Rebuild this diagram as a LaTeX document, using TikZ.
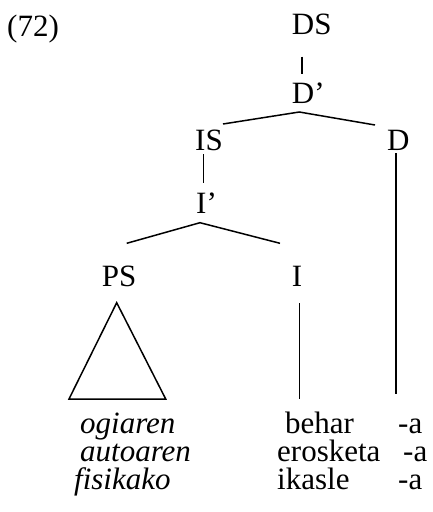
\documentclass[tikz,border=0pt]{standalone}
\usepackage{fontspec}
\setmainfont{Liberation Serif}
\usepackage{tikz}

\begin{document}
\begin{tikzpicture}[x=1pt,y=-1pt,
    font=\fontsize{31}{37}\selectfont,
    lbl/.style={anchor=base west,inner sep=0pt},
    branch/.style={line width=1.5pt}]
        \useasboundingbox (0,0) rectangle (433,512);

        % labels of the tree
        \node[lbl] (ex) at (7,36) {(72)};
        \node[lbl] (ds) at (291.7,34.3) {DS};
        \node[lbl] (dbar) at (291.7,103.3) {D’};
        \node[lbl] (is) at (195,150) {IS};
        \node[lbl] (d) at (387,150) {D};
        \node[lbl] (ibar) at (196,213.3) {I’};
        \node[lbl] (ps) at (101.7,286.7) {PS};
        \node[lbl] (i) at (291.7,286.7) {I};

        % the words
        \node[lbl] (w1) at (80,433) {\itshape ogiaren};
        \node[lbl] (w2) at (80,461.7) {\itshape autoaren};
        \node[lbl] (w3) at (74,489.3) {\itshape fisikako};
        \node[lbl] (n1) at (285,433) {behar};
        \node[lbl] (n2) at (277,461.7) {erosketa};
        \node[lbl] (n3) at (277,489.3) {ikasle};
        \node[lbl] (a1) at (398,433) {-a};
        \node[lbl] (a2) at (403,461.7) {-a};
        \node[lbl] (a3) at (398,489.3) {-a};

        % ends of the branches
        \coordinate (ds-foot) at (302,56.7);
        \coordinate (dbar-head) at (302,74);
        \coordinate (dbar-foot) at (299.3,112);
        \coordinate (is-arm) at (223,124);
        \coordinate (d-arm) at (375,125);
        \coordinate (is-foot) at (203.3,154);
        \coordinate (ibar-head) at (203.3,182.7);
        \coordinate (ibar-foot) at (200,222.7);
        \coordinate (ps-arm) at (126.7,243.3);
        \coordinate (i-arm) at (280,243.3);
        \coordinate (tri-top) at (116.7,302.7);
        \coordinate (tri-left) at (69,399);
        \coordinate (tri-right) at (165.7,399);
        \coordinate (i-top) at (299.3,303.3);
        \coordinate (i-bottom) at (299.3,399);
        \coordinate (d-top) at (396,153);
        \coordinate (d-bottom) at (396,394);

        \draw[branch] (ds-foot) -- (dbar-head);
        \draw[branch] (is-arm) -- (dbar-foot) -- (d-arm);
        \draw[branch] (is-foot) -- (ibar-head);
        \draw[branch] (ps-arm) -- (ibar-foot) -- (i-arm);
        \draw[branch] (tri-top) -- (tri-left) -- (tri-right) -- cycle;
        \draw[branch] (i-top) -- (i-bottom);
        \draw[branch] (d-top) -- (d-bottom);
    \end{tikzpicture}
\end{document}
